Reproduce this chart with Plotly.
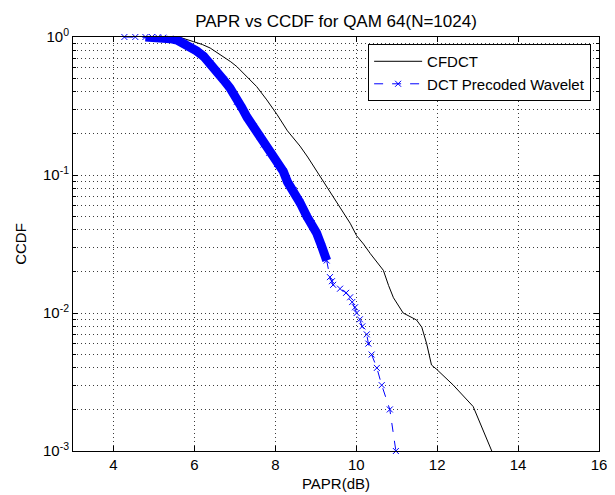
import plotly.graph_objects as go

# ---- data ----
papr_cfdct = [5.30, 5.65, 5.98, 6.20, 6.39, 6.55, 6.72, 6.90, 7.05, 7.30, 7.54, 7.79,
              8.04, 8.30, 8.61, 8.80, 9.02, 9.20, 9.35, 9.50, 9.68, 9.85, 10.01, 10.18,
              10.35, 10.55, 10.67, 10.80, 10.92, 11.16, 11.49, 11.62, 11.74, 11.86,
              11.99, 12.40, 12.89, 13.35]
ccdf_cfdct = [1.0, 0.993, 0.925, 0.881, 0.832, 0.776, 0.724, 0.661, 0.610, 0.513, 0.437, 0.350,
              0.275, 0.209, 0.162, 0.135, 0.107, 0.0891, 0.0759, 0.0646, 0.0525, 0.0447, 0.0363, 0.0316,
              0.0269, 0.0229, 0.0204, 0.0158, 0.0129, 0.0100, 0.0089, 0.0079, 0.0060, 0.0042,
              0.0039, 0.0030, 0.0021, 0.0010]

papr_dct = [4.27, 4.54, 4.79, 4.95, 5.10, 5.23, 5.40, 5.57, 5.75, 5.90, 6.05, 6.23, 6.39,
            6.56, 6.72, 6.88, 7.05, 7.17, 7.30, 7.46, 7.62, 7.71, 7.85, 8.04, 8.20, 8.30,
            8.45, 8.61, 8.78, 8.90, 9.02, 9.15, 9.27, 9.35, 9.40, 9.43, 9.60, 9.75, 9.85,
            9.90, 9.97, 10.01, 10.09, 10.15, 10.26, 10.30, 10.38, 10.51, 10.63, 10.83, 10.98]
ccdf_dct = [1.0, 1.0, 1.0, 0.999, 0.995, 0.989, 0.973, 0.951, 0.902, 0.851, 0.794, 0.724, 0.646,
            0.569, 0.490, 0.427, 0.339, 0.309, 0.263, 0.224, 0.191, 0.166, 0.145, 0.120, 0.106, 0.0891,
            0.0776, 0.0631, 0.0501, 0.0447, 0.0380, 0.0302, 0.0240, 0.0182, 0.017, 0.016, 0.015, 0.014, 0.013,
            0.012, 0.011, 0.010, 0.009, 0.008, 0.007, 0.006, 0.005, 0.004, 0.003, 0.002, 0.001]

x_ticks = [4, 6, 8, 10, 12, 14, 16]
y_ticks = [1e-3, 1e-2, 1e-1, 1]
y_ticktext = ["10<sup>-3</sup>", "10<sup>-2</sup>", "10<sup>-1</sup>", "10<sup>0</sup>"]

DENSE_FROM = 4.79   # dense (overlapping marker) part of the simulated curve
DENSE_LIMIT = 9.30

FONT = "Liberation Sans, Arial, Helvetica, sans-serif"
BLUE = "#0000ff"
GRID = "#3c3c3c"
GRIDDASH = "1px,3px"

# the page body adds an 8 px offset; figure is sized so the plot area lands
# at x 73..599, y 37..451 of the 615x495 window
W, H = 607, 487

fig = go.Figure()

fig.add_trace(go.Scatter(
    x=papr_cfdct, y=ccdf_cfdct, mode="lines", name="CFDCT",
    line=dict(color="black", width=1)))

dense_idx = [i for i, x in enumerate(papr_dct) if DENSE_FROM <= x <= DENSE_LIMIT]
fig.add_trace(go.Scatter(
    x=[papr_dct[i] for i in dense_idx], y=[ccdf_dct[i] for i in dense_idx],
    mode="lines", showlegend=False, hoverinfo="skip",
    line=dict(color=BLUE, width=9)))

fig.add_trace(go.Scatter(
    x=papr_dct, y=ccdf_dct, mode="lines+markers", name="DCT Precoded Wavelet",
    line=dict(color=BLUE, width=1, dash="dash"),
    marker=dict(symbol="x-thin", size=6, color=BLUE, line=dict(color=BLUE, width=1)),
    cliponaxis=False))

minor_vals = [k * 10.0 ** e for e in (-3, -2, -1) for k in range(2, 10)]

fig.update_layout(
    width=W, height=H,
    margin=dict(l=65, r=16, t=29, b=44, autoexpand=False),
    paper_bgcolor="white", plot_bgcolor="white",
    font=dict(family=FONT, size=15, color="black"),
    title=dict(text="PAPR vs CCDF for QAM 64(N=1024)", x=0.5, xref="paper",
               xanchor="center",
               y=1 - 13 / H, yref="container", yanchor="middle",
               font=dict(family=FONT, size=17, color="black")),
    showlegend=True,
    legend=dict(x=0.985, y=0.983, xanchor="right", yanchor="top",
                bgcolor="white", bordercolor="black", borderwidth=1,
                font=dict(family=FONT, size=15, color="black"),
                itemwidth=48, tracegroupgap=0),
    xaxis=dict(range=[3, 16], tickvals=x_ticks, ticks="inside", ticklen=5,
               tickcolor="black", showline=True, linecolor="black", linewidth=1,
               mirror="allticks", showgrid=True, gridcolor=GRID, griddash=GRIDDASH,
               gridwidth=1, zeroline=False, automargin=False,
               tickfont=dict(family=FONT, size=15),
               title=dict(text="PAPR(dB)", font=dict(family=FONT, size=15), standoff=6)),
    yaxis=dict(type="log", range=[-3, 0], tickvals=y_ticks, ticktext=y_ticktext,
               ticks="inside", ticklen=5, tickcolor="black", showline=True,
               linecolor="black", linewidth=1, mirror="allticks", automargin=False,
               showgrid=True, gridcolor=GRID, griddash=GRIDDASH, gridwidth=1,
               zeroline=False, tickfont=dict(family=FONT, size=15),
               minor=dict(tickvals=minor_vals, ticks="inside", ticklen=3,
                          tickcolor="black", showgrid=True, gridcolor=GRID,
                          griddash=GRIDDASH, gridwidth=1),
               title=dict(text="CCDF", font=dict(family=FONT, size=15), standoff=12)),
)

fig.write_html("out.html")
